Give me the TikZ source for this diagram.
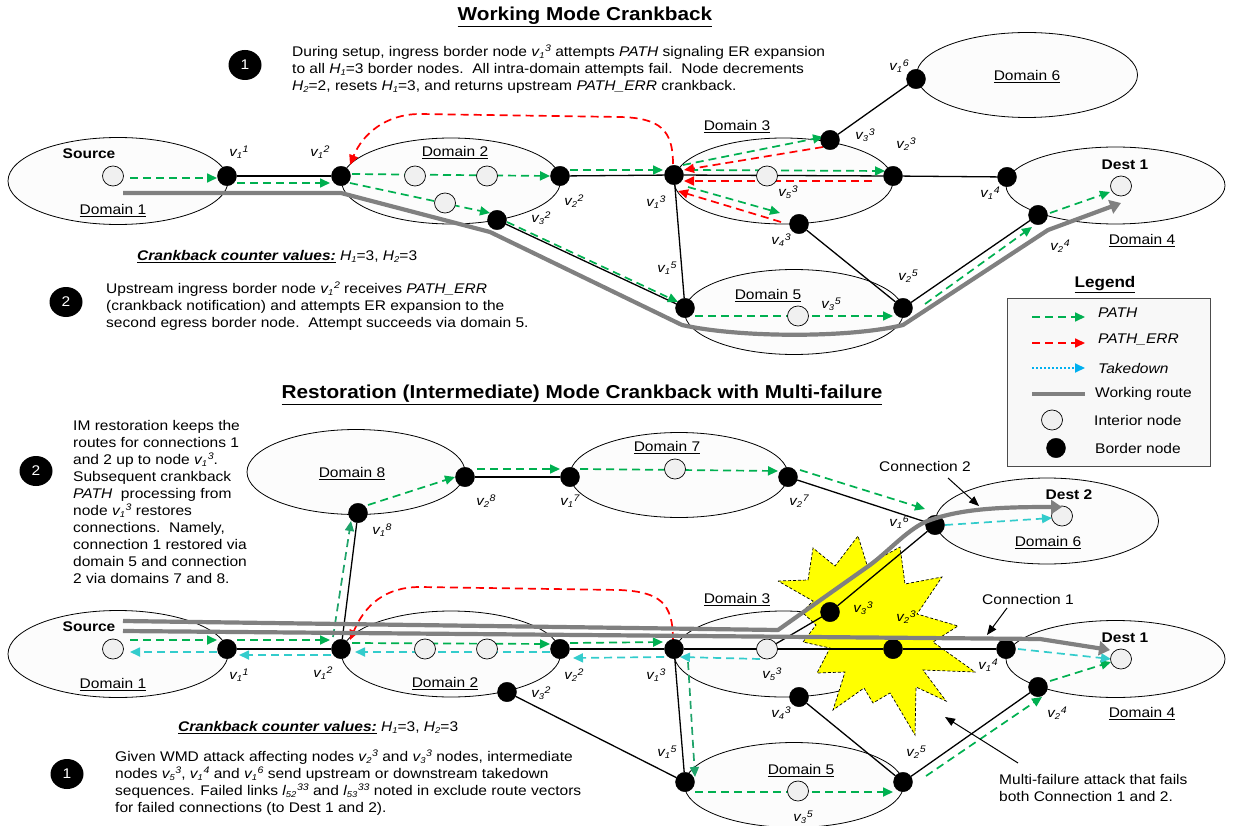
\documentclass[tikz,border=0pt]{standalone}
\usepackage{fontspec}
\setmainfont[FakeStretch=1.11]{Liberation Sans}
\usetikzlibrary{arrows.meta,shapes.geometric}
\pgfdeclarelayer{bg}\pgfdeclarelayer{mid}
\pgfsetlayers{bg,mid,main}
\definecolor{gp}{HTML}{00B050}
\definecolor{gq}{HTML}{1FA36A}
\definecolor{cy}{HTML}{33CCCC}
\definecolor{lb}{HTML}{00B0F0}
\definecolor{rt}{HTML}{808080}
\definecolor{dm}{HTML}{FCFCFC}
\definecolor{ic}{HTML}{F0F0F0}
\definecolor{st}{HTML}{FFFF00}
\newcommand{\vsb}[3]{\textit{#1\raisebox{-.3ex}{\fontsize{8.5}{8.5}\selectfont #2}\kern.6pt\raisebox{.6ex}{\fontsize{9.5}{9.5}\selectfont #3}}}
\newcommand{\hsb}[2]{\textit{#1\raisebox{-.3ex}{\fontsize{8.5}{8.5}\selectfont #2}}}
\newcommand{\cn}[5]{\draw[#1] ([shift={(#3)}]#2.center) -- ([shift={(#5)}]#4.center);}
\tikzset{
 x=1pt,y=-1pt,
 dom/.style={draw,fill=dm,ellipse,line width=.8pt,inner sep=0pt},
 bn/.style={ellipse,fill=black,draw=black,minimum width=19pt,minimum height=19.5pt,inner sep=0pt},
 inn/.style={ellipse,fill=ic,draw=black,line width=.7pt,minimum width=21pt,minimum height=20pt,inner sep=0pt},
 lnk/.style={line width=1.3pt,black},
 sigbase/.style={line width=1.7pt,dash pattern=on 8pt off 5pt,-{Triangle[length=10pt,width=9pt]}},
 pa/.style={sigbase,draw=gp},
 pq/.style={sigbase,draw=gq},
 er/.style={sigbase,draw=red},
 tkd/.style={sigbase,draw=cy},
 rte/.style={line width=4.2pt,draw=rt,line join=round},
 rta/.style={rte,-{Triangle[length=11pt,width=14pt]}},
 txt/.style={anchor=north west,align=left,inner sep=0pt,font=\fontsize{14}{17}\selectfont},
 ttl/.style={inner sep=0pt,font=\bfseries\fontsize{18.7}{20}\selectfont},
 dlab/.style={inner sep=0pt,yshift=-1.5pt,font=\fontsize{14}{15}\selectfont},
 blab/.style={inner sep=0pt,yshift=-1pt,font=\bfseries\fontsize{14}{15}\selectfont},
 vlab/.style={inner sep=0pt,font=\fontsize{13.5}{14}\selectfont},
 numc/.style={ellipse,fill=black,text=white,minimum width=33pt,inner sep=0pt,font=\fontsize{14}{16}\selectfont},
 ann/.style={-{Triangle[length=10pt,width=8pt]},line width=1pt},
}
\begin{document}
\begin{tikzpicture}
\useasboundingbox (0,0) rectangle (1233,826);
\node[ttl] (t1) at (585,17) {\underline{Working Mode Crankback}};
\node[ttl] (t2) at (582,395) {\underline{Restoration (Intermediate) Mode Crankback with Multi-failure}};
\node[numc,minimum height=30pt] (n1) at (245,65) {1};
\node[numc,minimum height=30pt] (n2) at (66,302) {2};
\node[numc,minimum height=30pt] (n3) at (36,471) {2};
\node[numc,minimum height=30pt] (n4) at (67,774) {1};
\node[txt] (x1) at (292,45) {During setup, ingress border node \vsb{v}{1}{3} attempts \textit{PATH} signaling ER expansion\\to all \hsb{H}{1}=3 border nodes.\ \ All intra-domain attempts fail.\ \ Node decrements\\\hsb{H}{2}=2, resets \hsb{H}{1}=3, and returns upstream \textit{PATH\_ERR} crankback.};
\node[txt] (x2) at (106,282) {Upstream ingress border node \vsb{v}{1}{2} receives \textit{PATH\_ERR}\\(crankback notification) and attempts ER expansion to the\\second egress border node.\ \ Attempt succeeds via domain 5.};
\node[txt] (x3) at (137,250) {\textbf{\textit{\underline{Crankback counter values:}}} \hsb{H}{1}=3, \hsb{H}{2}=3};
\node[txt] (x4) at (73,420) {IM restoration keeps the\\routes for connections 1\\and 2 up to node \vsb{v}{1}{3}.\\Subsequent crankback\\\textit{PATH}\ \ processing from\\node \vsb{v}{1}{3} restores\\connections.\ \ Namely,\\connection 1 restored via\\domain 5 and connection\\2 via domains 7 and 8.};
\node[txt] (x5) at (178,721) {\textbf{\textit{\underline{Crankback counter values:}}} \hsb{H}{1}=3, \hsb{H}{2}=3};
\node[txt] (x6) at (115,750) {Given WMD attack affecting nodes \vsb{v}{2}{3} and \vsb{v}{3}{3} nodes, intermediate\\nodes \vsb{v}{5}{3}, \vsb{v}{1}{4} and \vsb{v}{1}{6} send upstream or downstream takedown\\sequences. Failed links \vsb{l}{52}{33} and \vsb{l}{53}{33} noted in exclude route vectors\\for failed connections (to Dest 1 and 2).};
\node[txt] (x7) at (999,774) {Multi-failure attack that fails\\both Connection 1 and 2.};
\node[dlab,yshift=1.5pt] (c2) at (925,466) {Connection 2};
\node[dlab,yshift=1.5pt] (c1) at (1028,599) {Connection 1};

% legend
\begin{pgfonlayer}{bg}
\draw[draw=black!70,fill=ic!50,line width=.8pt] (1007,298) rectangle (1210,466);
\end{pgfonlayer}
\node[inner sep=0pt,font=\bfseries\fontsize{15.4}{16}\selectfont] (lg) at (1105,285) {\underline{Legend}};
\foreach \n/\yy in {a/317,b/343,c/368,d/394}{
 \coordinate (l\n0) at (1032,\yy); \coordinate (l\n1) at (1085,\yy);}
\draw[pa] (la0) -- (la1);
\draw[er] (lb0) -- (lb1);
\draw[line width=1.8pt,dash pattern=on 2pt off 2pt,draw=lb,-{Triangle[length=10pt,width=9pt]}] (lc0) -- (lc1);
\draw[rte,line cap=butt] (ld0) -- (ld1);
\node[inn] (li) at (1052,420) {};
\node[bn] (lbn) at (1056,448) {};
\node[inner sep=0pt,anchor=west,font=\itshape\fontsize{14}{15}\selectfont] at (1098,313) {PATH};
\node[inner sep=0pt,anchor=west,font=\itshape\fontsize{14}{15}\selectfont] at (1098,340) {PATH\_ERR};
\node[inner sep=0pt,anchor=west,font=\itshape\fontsize{14}{15}\selectfont] at (1098,368) {Takedown};
\node[inner sep=0pt,anchor=west,font=\fontsize{14}{15}\selectfont] at (1095,394) {Working route};
\node[inner sep=0pt,anchor=west,font=\fontsize{14}{15}\selectfont] at (1094,420) {Interior node};
\node[inner sep=0pt,anchor=west,font=\fontsize{14}{15}\selectfont] at (1095,448) {Border node};

% ---------- TOP ----------
\begin{pgfonlayer}{bg}
\node[dom,minimum width=220pt,minimum height=87pt] (D1) at (118,181) {};
\node[dom,minimum width=219pt,minimum height=86pt] (D2) at (451,181) {};
\node[dom,minimum width=219pt,minimum height=86pt] (D3) at (783.5,181) {};
\node[dom,minimum width=219pt,minimum height=77pt] (D4) at (1115.5,185.5) {};
\node[dom,minimum width=219pt,minimum height=85pt] (D5) at (794,312) {};
\node[dom,minimum width=221pt,minimum height=85pt] (D6) at (1027,75) {};
\end{pgfonlayer}
\foreach \n/\a/\b in {t11/227/176,t12/341/176,t22/560/176,t32/497/220,t13/674/175,t33/830/140,t23/893/176,t43/799/224,t14/1007/177,t24/1038/215,t16/916/79,t15/685/308,t25/903/308}{\node[bn] (\n) at (\a,\b) {};}
\foreach \n/\a/\b in {ts/113/176,ta/415/176,tb/487/176,tc/445/203,t53/767/176,tdd/1121/186,t35/798/316}{\node[inn] (\n) at (\a,\b) {};}
\node[blab] (lsr) at (89,153) {Source};
\node[blab] (lde) at (1125,164) {Dest 1};
\foreach \a/\b/\t in {113/209/1,455/151/2,737/125/3,1142/239/4,768/294/5,1027/75/6}{\node[dlab] at (\a,\b) {\underline{Domain \t}};}
\foreach \a/\b/\s/\u in {239/152/1/1,320/152/1/2,574/201/2/2,541/218/3/2,656/202/1/3,865/135/3/3,906/144/2/3,788/192/5/3,781/240/4/3,990/193/1/4,1060/246/2/4,899/66/1/6,667/268/1/5,908/276/2/5,831/304/3/5}{\node[vlab] at (\a,\b) {\vsb{v}{\s}{\u}};}
\begin{pgfonlayer}{bg}
\draw[lnk] (t11) -- (t12);
\draw[lnk] (t22) -- (t13);
\draw[lnk] (t13) -- (t23);
\draw[lnk] (t23) -- (t14);
\draw[lnk] (t13) -- (t15);
\draw[lnk] (t32) -- (t15);
\draw[lnk] (t33) -- (t16);
\draw[lnk] (t43) -- (t25);
\draw[lnk] (t25) -- (t24);
\end{pgfonlayer}
\begin{pgfonlayer}{mid}
\coordinate (g0) at (123,193);\coordinate (g1) at (341,193);\coordinate (g2) at (490,232);
\coordinate (g3) at (682,325);\coordinate (g4) at (903,325);\coordinate (g5) at (1048,230);\coordinate (g6) at (1121,203);
\draw[rta] (g0) -- (g1) -- (g2) -- (g3) .. controls (740,338) and (850,338) .. (g4) -- (g5) -- (g6);
\cn{pa}{ts}{17,2}{t11}{-10,2}
\cn{pa}{t11}{10,7}{t12}{-11,7}
\cn{pa}{t12}{11,-2}{t22}{-10,0}
\cn{pa}{t12}{9,7}{t32}{-7,-7}
\cn{pa}{t22}{10,-6}{t13}{-11,-5}
\cn{pa}{t13}{9,-10}{t33}{-7,-3}
\cn{pa}{t13}{16,-5}{t23}{-8,-5}
\cn{pa}{t13}{14,12}{t43}{-19,-11}
\cn{pa}{t32}{10,2}{t15}{-7,-6}
\cn{pa}{t15}{10,8}{t25}{-10,8}
\cn{pa}{t25}{22,-4}{t24}{-6,12}
\cn{pa}{t24}{12,-2}{tdd}{-11,6}
\cn{er}{t33}{-7,7}{t13}{10,-5}
\cn{er}{t23}{-21,5}{t13}{10,6}
\cn{er}{t43}{-18,-2}{t13}{4,16}
\coordinate (r1) at (620,117);\coordinate (r2) at (420,114);
\draw[er] ([shift={(-1,-11)}]t13.center) .. controls (673,130) and (660,118) .. (r1) -- (r2) .. controls (385,114) and (362,135) .. ([shift={(9,-11)}]t12.center);
\end{pgfonlayer}

% ---------- BOTTOM ----------
\begin{pgfonlayer}{bg}
\node[dom,minimum width=220pt,minimum height=87pt] (E1) at (118,654) {};
\node[dom,minimum width=219pt,minimum height=86pt] (E2) at (451,654) {};
\node[dom,minimum width=219pt,minimum height=86pt] (E3) at (783.5,654) {};
\node[dom,minimum width=219pt,minimum height=77pt] (E4) at (1115.5,659) {};
\node[dom,minimum width=219pt,minimum height=85pt] (E5) at (794,785) {};
\node[dom,minimum width=223pt,minimum height=86pt] (E6) at (1047,521) {};
\node[dom,minimum width=218pt,minimum height=85pt] (E7) at (679,475) {};
\node[dom,minimum width=218pt,minimum height=85pt] (E8) at (356,472) {};
\draw[draw=black,fill=st,line width=.7pt,densely dashed] (778,581) -- (808,580) -- (813,548) -- (835,566) -- (858,536) -- (867,565) -- (900,547) -- (905,584) -- (942,577) -- (917,614) -- (958,626) -- (933,642) -- (975,672) -- (923,670) -- (946,701) -- (916,687) -- (915,735) -- (890,693) -- (873,703) -- (864,688) -- (833,710) -- (845,672) -- (817,673) -- (830,648) -- (803,642) -- (816,625) -- (802,612) -- (813,601) -- cycle;
\end{pgfonlayer}
\foreach \n/\a/\b in {b11/227/649,b12/341/649,b22/560/649,b32/507/692,b13/674/649,b33/830/612,b23/893/649,b43/799/697,b14/1006/649,b24/1038/687,b16/935/525,b15/685/782,b25/903/782,b18/358/513,b28/465/477,b17/570/477,b27/788/477}{\node[bn] (\n) at (\a,\b) {};}
\foreach \n/\a/\b in {bs/113/649,ba/425/649,bb/487/649,b53/767/649,bdd/1121/659,b35/798/791,bd2/1062/516,b7i/675/469}{\node[inn] (\n) at (\a,\b) {};}
\foreach \a/\b/\t in {89/626/Source,1125/637/Dest 1,1069/494/Dest 2}{\node[blab] at (\a,\b) {\t};}
\foreach \a/\b/\t in {113/683/1,445/682/2,737/598/3,1142/712/4,801/769/5,1048/541/6,667/446/7,352/472/8}{\node[dlab] at (\a,\b) {\underline{Domain \t}};}
\foreach \a/\b/\s/\u in {239/675/1/1,323/673/1/2,574/675/2/2,541/693/3/2,656/675/1/3,863/608/3/3,906/617/2/3,772/674/5/3,781/713/4/3,988/665/1/4,1057/713/2/4,899/522/1/6,667/752/1/5,916/752/2/5,803/817/3/5,382/530/1/8,486/501/2/8,570/501/1/7,799/501/2/7}{\node[vlab] at (\a,\b) {\vsb{v}{\s}{\u}};}
\begin{pgfonlayer}{bg}
\draw[lnk] (b11) -- (b12);
\draw[lnk] (b12) -- (b18);
\draw[lnk] (b28) -- (b17);
\draw[lnk] (b27) -- (b16);
\draw[lnk] (b22) -- (b13);
\draw[lnk] (b13) -- (b23);
\draw[lnk] (b23) -- (b14);
\draw[lnk] (b13) -- (b15);
\draw[lnk] (b32) -- (b15);
\draw[lnk] (b53) -- (b33);
\draw[lnk] (b33) -- (b16);
\draw[lnk] (b43) -- (b25);
\draw[lnk] (b25) -- (b24);
\end{pgfonlayer}
\begin{pgfonlayer}{mid}
\cn{pa}{bs}{17,-9}{b11}{-10,-9}
\cn{pa}{b11}{10,-9}{b12}{-11,-9}
\cn{pa}{b12}{11,-6}{b22}{-10,-5}
\cn{pq}{b12}{-8,-12}{b18}{-7,8}
\cn{pa}{b18}{10,-8}{b28}{-10,0}
\cn{pa}{b28}{12,-8}{b17}{-10,-8}
\cn{pa}{b17}{10,-8}{b27}{-10,-6}
\cn{pa}{b27}{12,-7}{b16}{-10,-16}
\cn{pa}{b22}{10,-6}{b13}{-11,-7}
\cn{pq}{b13}{14,13}{b15}{10,-5}
\cn{pa}{b15}{10,10}{b25}{-10,10}
\cn{pa}{b25}{23,-6}{b24}{4,10}
\cn{pa}{b24}{12,-6}{bdd}{-10,3}
\cn{tkd}{b11}{-10,3}{bs}{17,3}
\cn{tkd}{b12}{-10,6}{b11}{12,6}
\cn{tkd}{b22}{-10,3}{b12}{14,3}
\cn{tkd}{b13}{-10,8}{b22}{13,9}
\cn{tkd}{b53}{-7,10}{b13}{6,8}
\cn{tkd}{b14}{12,0}{bdd}{-10,0}
\cn{tkd}{b16}{10,0}{bd2}{-10,2}
\coordinate (q1) at (620,590);\coordinate (q2) at (420,587);
\draw[er] ([shift={(-1,-9)}]b13.center) .. controls (673,603) and (660,592) .. (q1) -- (q2) .. controls (385,587) and (365,605) .. ([shift={(9,-9)}]b12.center);
\end{pgfonlayer}
\coordinate (h0) at (123,621);\coordinate (h1) at (778,630);\coordinate (h2) at (870,565);\coordinate (h3) at (925,522);\coordinate (h4) at (1062,507);
\draw[rta] (h0) -- (h1) -- (h2) .. controls (890,550) and (905,532) .. (h3) .. controls (960,508) and (1005,507) .. (h4);
\coordinate (k0) at (123,631);\coordinate (k1) at (1040,639);\coordinate (k2) at (1110,650);
\draw[rta] (k0) -- (k1) -- (k2);
\coordinate (a1) at (948,478);\coordinate (a2) at (979,506);
\draw[ann] (a1) -- (a2);
\coordinate (a3) at (1007,608);\coordinate (a4) at (987,635);
\draw[ann] (a3) -- (a4);
\coordinate (a5) at (1018,763);\coordinate (a6) at (945,717);
\draw[ann] (a5) -- (a6);
\end{tikzpicture}
\end{document}
